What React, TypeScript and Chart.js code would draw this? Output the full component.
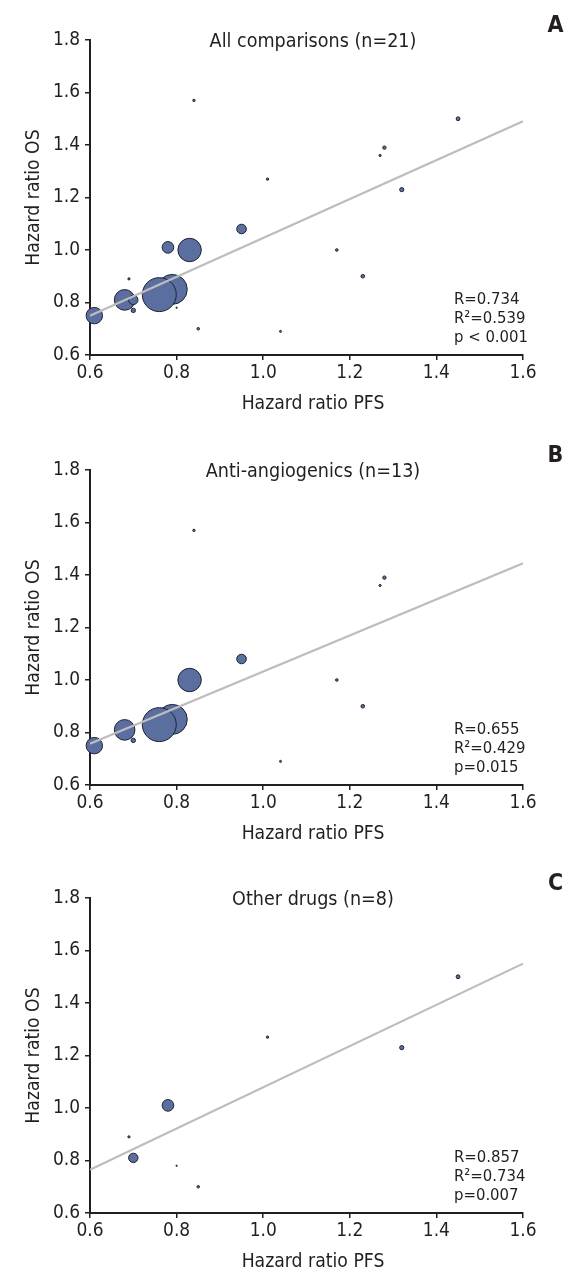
import React, { useEffect, useRef } from 'react';
import { Chart, registerables } from 'chart.js';

Chart.register(...registerables);

// ---------- data ----------
const xTicks = [0.6, 0.8, 1.0, 1.2, 1.4, 1.6];
const yTicks = [0.6, 0.8, 1.0, 1.2, 1.4, 1.6, 1.8];
const fitX = [0.6, 1.6];

// Panel A: all comparisons (n=21)
const pfsA = [0.84, 1.45, 1.28, 1.27, 1.01, 1.32, 0.95, 1.17, 1.23, 0.85, 1.04, 0.69, 0.61, 0.68, 0.70, 0.70, 0.78, 0.83, 0.79, 0.76, 0.80];
const osA = [1.57, 1.50, 1.39, 1.36, 1.27, 1.23, 1.08, 1.00, 0.90, 0.70, 0.69, 0.89, 0.75, 0.81, 0.81, 0.77, 1.01, 1.00, 0.85, 0.83, 0.78];
const weightA = [2.9, 5.8, 4.8, 2.6, 2.9, 6.8, 28, 3.2, 5.3, 3.2, 2.3, 2.6, 76, 117, 27, 7.3, 40, 149, 240, 306, 1.4];
const fitA = [0.75, 1.49];
const statsA = ['R=0.734', 'R²=0.539', 'p < 0.001'];

// Panel B: anti-angiogenics (n=13)
const pfsB = [0.84, 1.28, 1.27, 0.95, 1.17, 1.23, 1.04, 0.61, 0.68, 0.70, 0.83, 0.79, 0.76];
const osB = [1.57, 1.39, 1.36, 1.08, 1.00, 0.90, 0.69, 0.75, 0.81, 0.77, 1.00, 0.85, 0.83];
const weightB = [2.9, 4.8, 2.6, 28, 3.2, 5.3, 2.3, 76, 117, 7.3, 149, 240, 306];
const fitB = [0.757, 1.445];
const statsB = ['R=0.655', 'R²=0.429', 'p=0.015'];

// Panel C: other drugs (n=8)
const pfsC = [1.45, 1.01, 1.32, 0.78, 0.69, 0.70, 0.80, 0.85];
const osC = [1.50, 1.27, 1.23, 1.01, 0.89, 0.81, 0.78, 0.70];
const weightC = [5.8, 2.9, 6.8, 40, 2.6, 27, 1.4, 3.2];
const fitC = [0.765, 1.55];
const statsC = ['R=0.857', 'R²=0.734', 'p=0.007'];

// ---------- styling ----------
const INK = '#231f20';
const BUBBLE_FILL = '#5a6f9f';
const BUBBLE_EDGE = '#1f2230';
const FIT_COLOR = '#bdbdbd';
const W = 577;
const H = 419;

function measureWidth(font: string, text: string): number {
  const ctx = document.createElement('canvas').getContext('2d')!;
  ctx.font = font;
  return ctx.measureText(text).width;
}

function hasFont(name: string): boolean {
  const sample = 'Hazard ratio 0123456789 ABCDEFG';
  const base = measureWidth('40px monospace', sample);
  const test = measureWidth(`40px "${name}", monospace`, sample);
  return Math.abs(base - test) > 0.01;
}

function pickFamily(): string {
  const cands = ['Liberation Sans Narrow', 'Arial Narrow', 'DejaVu Sans Condensed', 'Roboto', 'Liberation Sans'];
  for (const c of cands) if (hasFont(c)) return `"${c}", sans-serif`;
  return 'sans-serif';
}

// size between the one matching the reference width and the one matching its height
function fitSize(family: string, weight: string, text: string, targetW: number, maxSize: number): number {
  const w = measureWidth(`${weight} 100px ${family}`, text);
  const byWidth = (100 * targetW) / w;
  if (byWidth >= maxSize) return maxSize;
  return byWidth + 0.6 * (maxSize - byWidth);
}

type PanelProps = {
  pfs: number[];
  os: number[];
  weight: number[];
  fit: number[];
  title: string;
  letter: string;
  stats: string[];
};

function Panel({ pfs, os, weight, fit, title, letter, stats }: PanelProps) {
  const ref = useRef<HTMLCanvasElement | null>(null);

  useEffect(() => {
    if (!ref.current) return;
    const family = pickFamily();
    const tickSize = fitSize(family, 'normal', '0.6', 21.7, 21.5);
    const titleSize = fitSize(family, 'normal', 'All comparisons (n=21)', 184, 21);
    const axisSize = fitSize(family, 'normal', 'Hazard ratio PFS', 134, 20);
    const statSize = fitSize(family, 'normal', 'R=0.734', 54, 18.5);
    const letterSize = fitSize(family, 'bold', 'A', 15, 24);

    const textPlugin = {
      id: 'panelText',
      afterDraw(chart: any) {
        const { ctx, chartArea } = chart;
        const { top, bottom } = chartArea;
        ctx.save();
        ctx.fillStyle = INK;
        ctx.textBaseline = 'alphabetic';
        // panel title
        ctx.font = `normal ${titleSize}px ${family}`;
        ctx.textAlign = 'center';
        ctx.fillText(title, 313, top + 7.3);
        // panel letter
        ctx.font = `bold ${letterSize}px ${family}`;
        ctx.fillText(letter, 555.5, top - 8.5);
        // x axis title
        ctx.font = `normal ${axisSize}px ${family}`;
        ctx.fillText('Hazard ratio PFS', 313, bottom + 54);
        // y axis title
        ctx.save();
        ctx.translate(39.3, (top + bottom) / 2);
        ctx.rotate(-Math.PI / 2);
        ctx.fillText('Hazard ratio OS', 0, 0);
        ctx.restore();
        // statistics
        ctx.font = `normal ${statSize}px ${family}`;
        ctx.textAlign = 'left';
        const offs = [51.2, 32, 12.8];
        stats.forEach((s, i) => ctx.fillText(s, 454, bottom - offs[i]));
        ctx.restore();
      },
    };

    const tickFont = { family, size: tickSize };

    const chart = new Chart(ref.current, {
      type: 'bubble',
      data: {
        datasets: [
          {
            type: 'line',
            data: fitX.map((x, i) => ({ x, y: fit[i] })),
            borderColor: FIT_COLOR,
            borderWidth: 2.2,
            pointRadius: 0,
            fill: false,
            order: 0,
          } as any,
          {
            type: 'bubble',
            data: pfs.map((x, i) => ({ x, y: os[i], r: Math.max(0.6, Math.sqrt(weight[i]) - 0.5) })),
            backgroundColor: BUBBLE_FILL,
            borderColor: BUBBLE_EDGE,
            borderWidth: 1,
            clip: false,
            order: 1,
          } as any,
        ],
      },
      options: {
        animation: false,
        responsive: false,
        devicePixelRatio: 1,
        events: [],
        layout: { padding: { top: 40, right: 54, bottom: 0, left: 0 } },
        plugins: {
          legend: { display: false },
          tooltip: { enabled: false },
          title: { display: false },
        },
        scales: {
          x: {
            type: 'linear',
            min: 0.6,
            max: 1.6,
            afterBuildTicks: (s: any) => {
              s.ticks = xTicks.map((v) => ({ value: v }));
            },
            afterFit: (s: any) => {
              s.height = 64;
            },
            ticks: {
              callback: (v: any) => Number(v).toFixed(1),
              font: tickFont,
              color: INK,
              padding: 2,
              maxRotation: 0,
              autoSkip: false,
            },
            grid: { drawOnChartArea: false, drawTicks: true, tickLength: 5, color: INK, lineWidth: 1.5 },
            border: { display: true, color: INK, width: 2 },
          },
          y: {
            type: 'linear',
            min: 0.6,
            max: 1.8,
            afterBuildTicks: (s: any) => {
              s.ticks = yTicks.map((v) => ({ value: v }));
            },
            afterFit: (s: any) => {
              s.width = 90;
            },
            ticks: {
              callback: (v: any) => Number(v).toFixed(1),
              font: tickFont,
              color: INK,
              padding: 5,
              autoSkip: false,
            },
            grid: { drawOnChartArea: false, drawTicks: true, tickLength: 5, color: INK, lineWidth: 1.5 },
            border: { display: true, color: INK, width: 2 },
          },
        },
      } as any,
      plugins: [textPlugin],
    });
    return () => chart.destroy();
  }, [pfs, os, weight, fit, title, letter, stats]);

  return <canvas ref={ref} width={W} height={H} style={{ display: 'block', width: W, height: H }} />;
}

export default function App() {
  return (
    <div style={{ position: 'fixed', left: 0, top: 0, width: 577, height: 1277, background: '#fff', overflow: 'hidden' }}>
      <div style={{ position: 'absolute', left: 0, top: 0 }}>
        <Panel pfs={pfsA} os={osA} weight={weightA} fit={fitA} title="All comparisons (n=21)" letter="A" stats={statsA} />
      </div>
      <div style={{ position: 'absolute', left: 0, top: 430 }}>
        <Panel pfs={pfsB} os={osB} weight={weightB} fit={fitB} title="Anti-angiogenics (n=13)" letter="B" stats={statsB} />
      </div>
      <div style={{ position: 'absolute', left: 0, top: 858 }}>
        <Panel pfs={pfsC} os={osC} weight={weightC} fit={fitC} title="Other drugs (n=8)" letter="C" stats={statsC} />
      </div>
    </div>
  );
}
